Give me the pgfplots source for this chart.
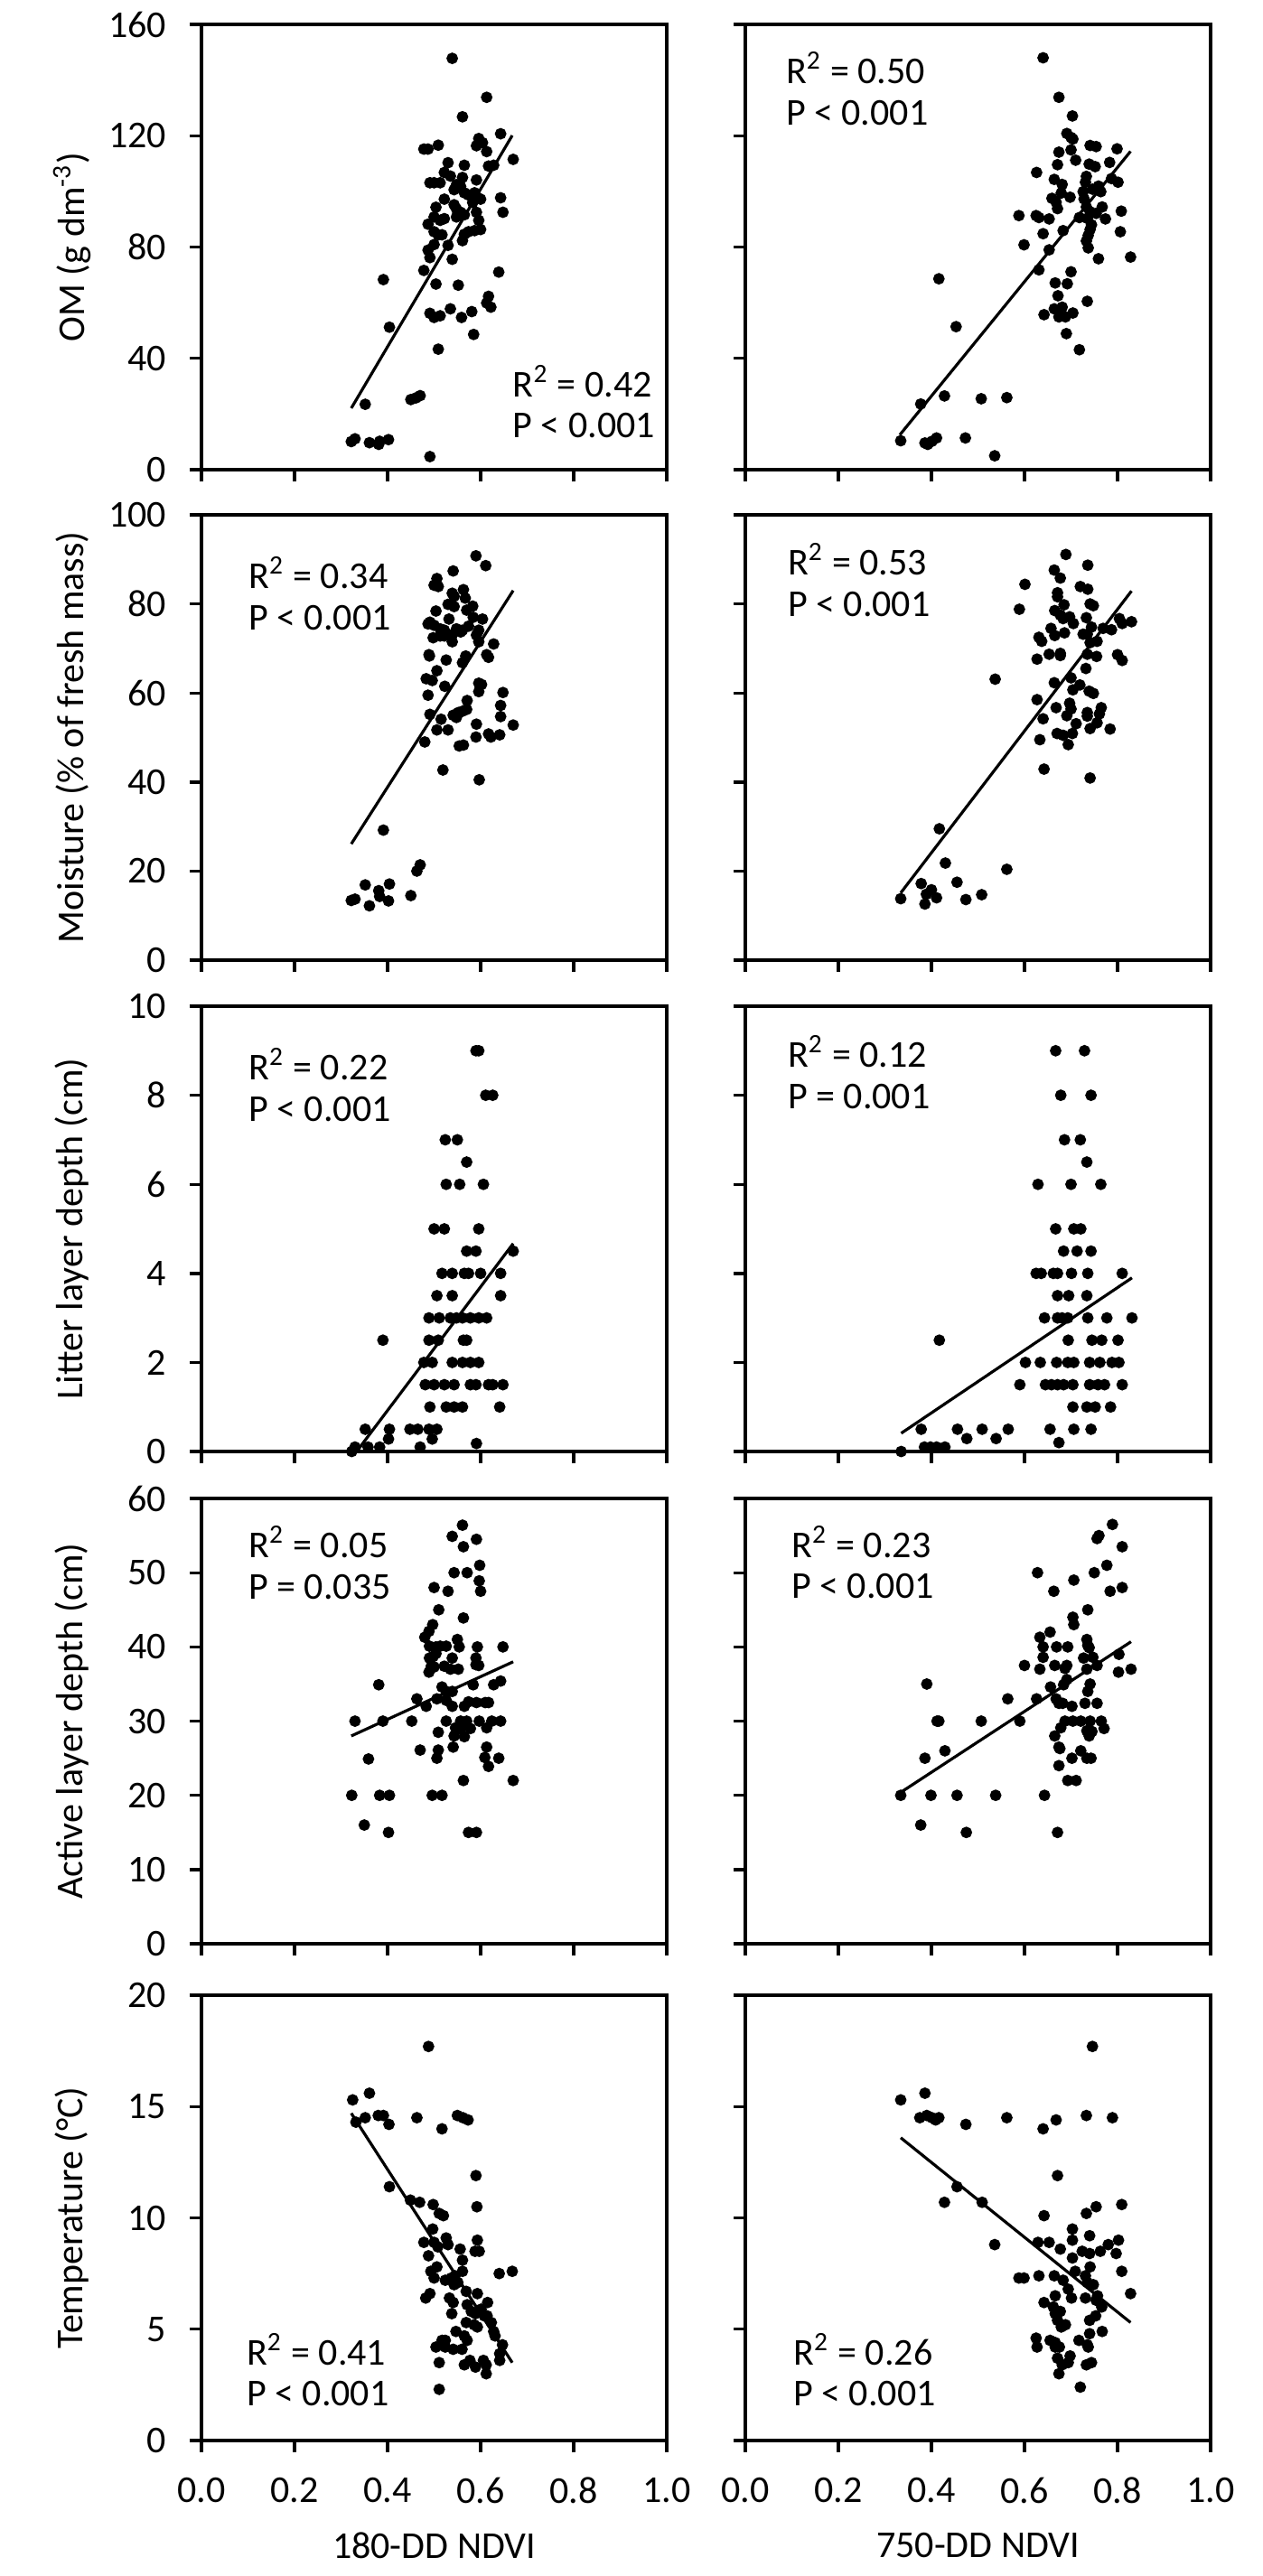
\documentclass[border=0pt]{standalone}
\usepackage{fontspec}
\setmainfont{Carlito}
\usepackage{pgfplots}
\pgfplotsset{compat=1.18}

\newcommand{\fs}{\fontsize{10.5}{12.5}\selectfont}

\pgfplotsset{
  panel/.style={
    scale only axis,
    width=128.75pt, height=123.25pt,
    anchor=south west,
    xmin=0, xmax=1,
    xtick={0,0.2,0.4,0.6,0.8,1},
    axis line style={line width=0.85pt},
    tick pos=left,
    tick align=outside,
    major tick length=3.25pt,
    every tick/.style={black, line width=0.85pt},
    tick label style={font=\fs},
    label style={font=\fs},
    /pgf/number format/assume math mode=true,
    xticklabel style={/pgf/number format/fixed, /pgf/number format/fixed zerofill,
      /pgf/number format/precision=1, yshift=-3.5pt},
    yticklabel style={xshift=-3pt},
    every axis y label/.style={at={(axis description cs:-0.278,0.5)}, rotate=90, anchor=center},
    every axis x label/.style={at={(axis description cs:0.5,-0.235)}, anchor=center},
    clip=false,
  },
  dots/.style={only marks, mark=*, mark size=1.4pt, black},
  fit/.style={black, line width=0.8pt, no marks},
}

\begin{document}
\begin{tikzpicture}[font=\fs]
\path[use as bounding box] (0,0) rectangle (349.25pt,-713pt);

% ---------------- row 1: OM ----------------
\begin{axis}[panel, at={(55.75pt,-130pt)}, ymin=0, ymax=160, ytick={0,40,80,120,160},
  xticklabels={}, ylabel={OM (g dm\textsuperscript{-3})}]
\addplot[dots] coordinates {
(0.539,147.8) (0.613,133.8) (0.561,126.8) (0.643,120.7) (0.670,111.5)
(0.487,115.2) (0.478,115.2) (0.509,116.6) (0.596,119.0) (0.604,117.5) (0.591,116.4)
(0.613,114.3) (0.530,110.3) (0.565,109.4) (0.617,109.1) (0.628,109.4)
(0.522,106.8) (0.535,105.5) (0.561,105.0) (0.491,103.1) (0.500,103.1) (0.513,103.1)
(0.591,104.1) (0.548,102.4) (0.543,100.6) (0.557,101.8) (0.565,99.5) (0.574,98.7)
(0.587,99.5) (0.596,97.5) (0.600,97.2) (0.583,96.0) (0.522,97.2) (0.504,94.3)
(0.543,95.2) (0.548,93.7) (0.557,92.5) (0.591,92.5) (0.565,91.6) (0.548,90.8)
(0.643,97.7) (0.648,92.5) (0.500,90.8) (0.487,88.2) (0.522,90.2) (0.513,89.6)
(0.596,89.6) (0.587,85.9) (0.574,85.5) (0.600,86.3) (0.500,85.5) (0.509,84.4)
(0.517,84.4) (0.565,84.6) (0.561,82.3) (0.500,80.9) (0.487,78.9) (0.491,76.2)
(0.530,80.6) (0.539,75.6) (0.478,71.6) (0.639,71.0) (0.391,68.3) (0.504,66.7)
(0.552,66.3) (0.617,62.3) (0.613,59.9) (0.622,58.4) (0.491,56.2) (0.500,54.7)
(0.513,55.3) (0.535,57.8) (0.559,54.7) (0.581,56.8) (0.585,48.6) (0.404,51.2)
(0.509,43.3) (0.450,25.2) (0.461,25.8) (0.470,26.6) (0.352,23.5) (0.322,10.1)
(0.330,11.1) (0.361,9.7) (0.381,9.1) (0.383,10.2) (0.402,10.8) (0.491,4.7)
};
\addplot[fit] coordinates {(0.322,22.1) (0.668,120.1)};
\node[anchor=west] at (rel axis cs:0.642,0.198) {R\textsuperscript{2} = 0.42};
\node[anchor=west] at (rel axis cs:0.642,0.100) {P < 0.001};
\end{axis}

\begin{axis}[panel, at={(206.25pt,-130pt)}, ymin=0, ymax=160, ytick={0,40,80,120,160},
  xticklabels={}, yticklabels={}]
\addplot[dots] coordinates {
(0.640,148.0) (0.674,133.8) (0.703,127.1) (0.691,120.8) (0.700,119.4) (0.704,118.8)
(0.700,114.9) (0.741,116.5) (0.754,116.1) (0.799,115.3) (0.674,114.1) (0.710,111.2)
(0.671,109.6) (0.739,109.8) (0.752,108.9) (0.783,110.4) (0.626,106.8) (0.664,104.3)
(0.681,102.5) (0.733,105.4) (0.731,103.3) (0.759,101.9) (0.787,104.6) (0.801,103.3)
(0.679,99.4) (0.698,97.9) (0.726,99.9) (0.746,100.8) (0.764,99.9) (0.659,97.5)
(0.668,96.1) (0.671,93.8) (0.728,97.3) (0.733,94.4) (0.741,92.7) (0.767,94.4)
(0.754,92.1) (0.808,92.9) (0.588,91.3) (0.625,91.3) (0.631,90.6) (0.653,90.1)
(0.718,90.6) (0.735,90.3) (0.774,90.1) (0.744,88.0) (0.741,86.3) (0.737,84.2)
(0.683,85.9) (0.806,85.5) (0.640,84.8) (0.733,82.2) (0.737,79.7) (0.599,80.8)
(0.653,79.0) (0.759,75.8) (0.828,76.4) (0.631,71.8) (0.700,71.1) (0.666,67.1)
(0.692,66.8) (0.672,62.5) (0.735,60.5) (0.664,57.8) (0.681,58.4) (0.674,54.9)
(0.688,54.9) (0.704,56.3) (0.642,55.7) (0.690,48.9) (0.718,43.1) (0.416,68.6)
(0.453,51.4) (0.377,23.6) (0.428,26.5) (0.507,25.5) (0.562,25.9) (0.334,10.4)
(0.386,9.6) (0.392,9.1) (0.401,10.2) (0.411,11.4) (0.473,11.4) (0.536,5.0)
};
\addplot[fit] coordinates {(0.332,12.5) (0.828,114.4)};
\node[anchor=west] at (rel axis cs:0.06,0.902) {R\textsuperscript{2} = 0.50};
\node[anchor=west] at (rel axis cs:0.06,0.801) {P < 0.001};
\end{axis}

% ---------------- row 2: Moisture ----------------
\begin{axis}[panel, at={(55.75pt,-265.75pt)}, ymin=0, ymax=100, ytick={0,20,40,60,80,100},
  xticklabels={}, ylabel={Moisture (\% of fresh mass)}]
\addplot[dots] coordinates {
(0.590,90.8) (0.611,88.6) (0.541,87.4) (0.506,85.7) (0.509,83.9) (0.500,84.2)
(0.539,82.4) (0.543,81.7) (0.563,83.2) (0.567,81.3) (0.530,79.9) (0.543,79.4)
(0.504,78.4) (0.583,79.5) (0.570,78.6) (0.532,76.6) (0.491,75.9) (0.487,75.5)
(0.500,75.2) (0.584,77.0) (0.604,76.6) (0.513,74.4) (0.522,74.1) (0.548,74.4)
(0.557,73.7) (0.561,74.1) (0.574,75.0) (0.596,74.1) (0.498,72.4) (0.513,72.8)
(0.522,72.8) (0.539,73.1) (0.539,71.5) (0.596,71.5) (0.591,73.0) (0.628,71.0)
(0.613,68.6) (0.617,68.0) (0.489,68.6) (0.490,68.3) (0.568,68.3) (0.561,66.8)
(0.526,67.4) (0.506,65.0) (0.483,63.2) (0.496,62.8) (0.487,59.5) (0.523,61.5)
(0.596,62.2) (0.602,61.9) (0.596,60.3) (0.648,60.1) (0.571,58.3) (0.570,56.3)
(0.561,55.9) (0.552,55.6) (0.643,57.2) (0.643,54.7) (0.491,55.2) (0.515,54.1)
(0.541,55.0) (0.548,54.5) (0.670,52.8) (0.591,53.0) (0.506,51.7) (0.530,51.7)
(0.590,50.1) (0.617,50.8) (0.622,50.1) (0.641,50.6) (0.480,49.0) (0.554,48.1)
(0.563,48.3) (0.519,42.7) (0.597,40.5) (0.391,29.2) (0.470,21.4) (0.463,20.0)
(0.450,14.5) (0.322,13.4) (0.330,13.7) (0.352,16.9) (0.361,12.2) (0.381,15.6)
(0.383,14.3) (0.402,13.3) (0.404,17.1)
};
\addplot[fit] coordinates {(0.322,26.1) (0.670,83.0)};
\node[anchor=west] at (rel axis cs:0.074,0.870) {R\textsuperscript{2} = 0.34};
\node[anchor=west] at (rel axis cs:0.074,0.768) {P < 0.001};
\end{axis}

\begin{axis}[panel, at={(206.25pt,-265.75pt)}, ymin=0, ymax=100, ytick={0,20,40,60,80,100},
  xticklabels={}, yticklabels={}]
\addplot[dots] coordinates {
(0.689,91.1) (0.736,88.7) (0.664,87.6) (0.677,85.8) (0.601,84.4) (0.720,83.9)
(0.736,83.3) (0.671,82.5) (0.671,81.6) (0.685,79.8) (0.741,80.0) (0.748,79.6)
(0.589,78.8) (0.665,78.5) (0.677,77.5) (0.683,76.7) (0.697,77.1) (0.705,75.6)
(0.733,76.9) (0.804,76.7) (0.810,75.6) (0.830,76.0) (0.657,74.5) (0.665,72.9)
(0.686,73.5) (0.744,74.8) (0.726,73.2) (0.735,73.2) (0.769,74.5) (0.787,74.2)
(0.631,72.5) (0.637,71.6) (0.741,71.3) (0.756,71.6) (0.653,68.7) (0.677,68.9)
(0.677,68.4) (0.627,67.6) (0.735,68.7) (0.755,68.2) (0.800,68.6) (0.810,67.3)
(0.732,65.5) (0.537,63.1) (0.700,63.4) (0.664,62.3) (0.719,61.8) (0.704,60.7)
(0.739,60.4) (0.748,59.9) (0.627,58.5) (0.668,56.7) (0.697,57.7) (0.700,56.4)
(0.691,54.9) (0.735,55.6) (0.735,54.8) (0.765,56.7) (0.761,55.3) (0.756,53.3)
(0.640,54.2) (0.711,53.1) (0.741,52.0) (0.784,51.9) (0.670,50.9) (0.683,50.5)
(0.703,50.9) (0.694,48.4) (0.633,49.5) (0.642,42.9) (0.741,40.9) (0.417,29.5)
(0.430,21.8) (0.378,17.2) (0.455,17.5) (0.562,20.4) (0.334,13.8) (0.389,14.8)
(0.400,15.8) (0.411,14.0) (0.386,12.6) (0.474,13.6) (0.508,14.7)
};
\addplot[fit] coordinates {(0.334,15.1) (0.830,82.9)};
\node[anchor=west] at (rel axis cs:0.064,0.900) {R\textsuperscript{2} = 0.53};
\node[anchor=west] at (rel axis cs:0.064,0.800) {P < 0.001};
\end{axis}

% ---------------- row 3: Litter layer depth ----------------
\begin{axis}[panel, at={(55.75pt,-401.75pt)}, ymin=0, ymax=10, ytick={0,2,4,6,8,10},
  xticklabels={}, ylabel={Litter layer depth (cm)}]
\addplot[dots] coordinates {
(0.590,9) (0.596,9) (0.611,8) (0.626,8) (0.524,7) (0.550,7) (0.570,6.5)
(0.526,6) (0.555,6) (0.606,6) (0.500,5) (0.522,5) (0.596,5)
(0.570,4.5) (0.590,4.5) (0.670,4.5)
(0.517,4) (0.539,4) (0.565,4) (0.574,4) (0.600,4) (0.643,4)
(0.506,3.5) (0.539,3.5) (0.643,3.5)
(0.489,3) (0.511,3) (0.535,3) (0.548,3) (0.561,3) (0.578,3) (0.596,3) (0.613,3)
(0.390,2.5) (0.489,2.5) (0.509,2.5) (0.563,2.5) (0.570,2.5)
(0.478,2) (0.496,2) (0.539,2) (0.561,2) (0.578,2) (0.596,2)
(0.481,1.5) (0.500,1.5) (0.522,1.5) (0.543,1.5) (0.578,1.5) (0.590,1.5) (0.617,1.5) (0.626,1.5) (0.648,1.5)
(0.491,1) (0.526,1) (0.543,1) (0.561,1) (0.641,1)
(0.352,0.5) (0.404,0.5) (0.448,0.5) (0.465,0.5) (0.489,0.5) (0.506,0.5)
(0.402,0.28) (0.496,0.28) (0.591,0.18)
(0.330,0.1) (0.358,0.1) (0.383,0.1) (0.470,0.1) (0.323,0)
};
\addplot[fit] coordinates {(0.335,0.02) (0.670,4.67)};
\node[anchor=west] at (rel axis cs:0.074,0.870) {R\textsuperscript{2} = 0.22};
\node[anchor=west] at (rel axis cs:0.074,0.769) {P < 0.001};
\end{axis}

\begin{axis}[panel, at={(206.25pt,-401.75pt)}, ymin=0, ymax=10, ytick={0,2,4,6,8,10},
  xticklabels={}, yticklabels={}]
\addplot[dots] coordinates {
(0.667,9) (0.729,9) (0.678,8) (0.743,8) (0.686,7) (0.720,7) (0.734,6.5)
(0.629,6) (0.700,6) (0.764,6) (0.667,5) (0.706,5) (0.721,5)
(0.684,4.5) (0.713,4.5) (0.743,4.5)
(0.625,4) (0.636,4) (0.662,4) (0.671,4) (0.701,4) (0.736,4) (0.810,4)
(0.671,3.5) (0.695,3.5) (0.734,3.5)
(0.643,3) (0.671,3) (0.681,3) (0.693,3) (0.736,3) (0.777,3) (0.831,3)
(0.417,2.5) (0.694,2.5) (0.745,2.5) (0.766,2.5) (0.801,2.5)
(0.602,2) (0.634,2) (0.669,2) (0.693,2) (0.706,2) (0.740,2) (0.762,2) (0.788,2) (0.803,2)
(0.590,1.5) (0.645,1.5) (0.658,1.5) (0.671,1.5) (0.684,1.5) (0.704,1.5) (0.740,1.5) (0.758,1.5) (0.772,1.5) (0.810,1.5)
(0.704,1) (0.734,1) (0.752,1) (0.785,1)
(0.378,0.5) (0.456,0.5) (0.509,0.5) (0.565,0.5) (0.655,0.5) (0.706,0.5) (0.743,0.5)
(0.476,0.29) (0.539,0.29) (0.674,0.2)
(0.385,0.1) (0.398,0.1) (0.411,0.1) (0.429,0.1) (0.335,0)
};
\addplot[fit] coordinates {(0.335,0.41) (0.831,3.90)};
\node[anchor=west] at (rel axis cs:0.064,0.899) {R\textsuperscript{2} = 0.12};
\node[anchor=west] at (rel axis cs:0.064,0.797) {P = 0.001};
\end{axis}

% ---------------- row 4: Active layer depth ----------------
\begin{axis}[panel, at={(55.75pt,-538pt)}, ymin=0, ymax=60, ytick={0,10,20,30,40,50,60},
  xticklabels={}, ylabel={Active layer depth (cm)}]
\addplot[dots] coordinates {
(0.561,56.4) (0.539,54.9) (0.591,54.5) (0.563,53.5) (0.543,50.0) (0.571,50.0)
(0.598,51.0) (0.597,48.9) (0.500,48.0) (0.530,47.5) (0.600,47.5) (0.510,45.0)
(0.563,43.9) (0.497,43.0) (0.489,42.1) (0.480,41.3) (0.550,41.0)
(0.490,40.1) (0.504,40.0) (0.513,40.1) (0.526,40.1) (0.554,40.0) (0.593,40.0) (0.648,40.0)
(0.490,38.5) (0.504,39.1) (0.498,38.7) (0.539,38.5) (0.590,38.5) (0.590,37.6) (0.596,37.5)
(0.494,37.4) (0.500,37.3) (0.489,36.6) (0.522,37.4) (0.535,37.0) (0.552,37.0)
(0.643,35.4) (0.628,34.9) (0.584,34.9) (0.517,34.6) (0.539,34.0) (0.526,34.0)
(0.463,33.0) (0.506,33.0) (0.526,32.8) (0.574,32.6) (0.591,32.5) (0.610,32.5) (0.617,32.5)
(0.483,32.0) (0.539,32.0) (0.565,32.0)
(0.330,30) (0.390,30) (0.452,30) (0.526,30) (0.557,30) (0.570,30) (0.597,30) (0.624,30) (0.643,30)
(0.546,29.1) (0.557,28.9) (0.578,29.0) (0.509,28.5) (0.543,28.0) (0.565,27.9) (0.613,29.1)
(0.470,26.1) (0.509,26.1) (0.541,26.5) (0.613,26.5) (0.381,34.9) (0.359,24.9)
(0.506,25.0) (0.609,25.1) (0.617,23.9) (0.639,25.0) (0.563,22.0) (0.670,22.0)
(0.323,20) (0.383,20) (0.404,20) (0.496,20) (0.517,20) (0.350,16.0)
(0.402,15) (0.574,15) (0.591,15)
};
\addplot[fit] coordinates {(0.322,28.0) (0.670,38.0)};
\node[anchor=west] at (rel axis cs:0.074,0.903) {R\textsuperscript{2} = 0.05};
\node[anchor=west] at (rel axis cs:0.074,0.801) {P = 0.035};
\end{axis}

\begin{axis}[panel, at={(206.25pt,-538pt)}, ymin=0, ymax=60, ytick={0,10,20,30,40,50,60},
  xticklabels={}, yticklabels={}]
\addplot[dots] coordinates {
(0.789,56.5) (0.756,54.6) (0.760,55.0) (0.810,53.5) (0.777,51.0) (0.628,50.0)
(0.750,50.0) (0.706,49.0) (0.663,47.5) (0.784,47.5) (0.810,48.0) (0.736,45.0)
(0.704,44.0) (0.706,43.0) (0.655,42.0) (0.633,41.3) (0.734,41.0) (0.736,40.2)
(0.640,40.0) (0.669,40.0) (0.693,40.0) (0.739,39.9) (0.727,38.5) (0.747,38.6)
(0.803,39.0) (0.640,38.6) (0.600,37.5) (0.665,37.5) (0.691,37.5) (0.687,37.1)
(0.756,37.5) (0.633,37.0) (0.734,37.0) (0.802,36.6) (0.829,37.0) (0.691,35.6)
(0.684,34.9) (0.390,35.0) (0.741,35.0) (0.736,34.0) (0.656,34.6) (0.564,33.0)
(0.626,33.0) (0.668,33.0) (0.674,32.4) (0.682,32.4) (0.702,32.0) (0.730,32.4)
(0.756,32.4) (0.412,30) (0.416,30) (0.507,30) (0.590,30) (0.687,30) (0.704,30)
(0.721,30) (0.741,30) (0.765,30) (0.678,29.1) (0.665,28.0) (0.734,28.7)
(0.745,28.6) (0.739,28.0) (0.771,29.0) (0.429,26.0) (0.674,26.5) (0.676,26.3)
(0.721,26.0) (0.386,25.0) (0.702,25.0) (0.734,25.0) (0.743,25.0) (0.674,24.0)
(0.693,22.0) (0.711,22.0) (0.334,20) (0.399,20) (0.455,20) (0.538,20) (0.643,20)
(0.377,16.0) (0.475,15.0) (0.671,15.0)
};
\addplot[fit] coordinates {(0.334,20.4) (0.829,40.7)};
\node[anchor=west] at (rel axis cs:0.072,0.903) {R\textsuperscript{2} = 0.23};
\node[anchor=west] at (rel axis cs:0.072,0.803) {P < 0.001};
\end{axis}

% ---------------- row 5: Temperature ----------------
\begin{axis}[panel, at={(55.75pt,-675.5pt)}, ymin=0, ymax=20, ytick={0,5,10,15,20},
  ylabel={Temperature (°C)}, xlabel={180-DD NDVI}]
\addplot[dots] coordinates {
(0.488,17.7) (0.325,15.3) (0.361,15.6) (0.332,14.3) (0.352,14.5) (0.380,14.6)
(0.391,14.6) (0.403,14.2) (0.463,14.5) (0.517,14.0) (0.550,14.6) (0.562,14.5)
(0.573,14.4) (0.590,11.9) (0.404,11.4) (0.449,10.8) (0.469,10.7) (0.498,10.6)
(0.511,10.2) (0.520,10.1) (0.592,10.5) (0.497,9.5) (0.478,8.9) (0.500,8.9)
(0.526,9.1) (0.593,9.0) (0.508,8.7) (0.530,8.8) (0.556,8.6) (0.588,8.5)
(0.597,8.5) (0.488,8.3) (0.561,8.1) (0.493,7.6) (0.506,7.8) (0.500,7.3)
(0.640,7.5) (0.668,7.6) (0.561,7.6) (0.524,7.2) (0.537,7.3) (0.545,7.4)
(0.543,7.0) (0.551,7.1) (0.569,6.7) (0.491,6.6) (0.482,6.4) (0.533,6.4)
(0.541,6.2) (0.593,6.6) (0.571,6.1) (0.615,6.2) (0.601,5.9) (0.589,5.7)
(0.580,5.8) (0.538,5.7) (0.608,5.6) (0.614,5.6) (0.623,5.3) (0.569,5.3)
(0.586,5.2) (0.593,5.1) (0.628,4.9) (0.631,4.7) (0.547,4.9) (0.565,4.7)
(0.571,4.5) (0.517,4.5) (0.524,4.5) (0.504,4.2) (0.524,4.2) (0.541,4.1)
(0.560,4.1) (0.647,4.3) (0.641,3.9) (0.511,3.5) (0.577,3.6) (0.606,3.6)
(0.612,3.4) (0.565,3.4) (0.589,3.3) (0.641,3.6) (0.612,3.0) (0.511,2.3)
};
\addplot[fit] coordinates {(0.322,14.7) (0.668,3.5)};
\node[anchor=west] at (rel axis cs:0.070,0.205) {R\textsuperscript{2} = 0.41};
\node[anchor=west] at (rel axis cs:0.070,0.105) {P < 0.001};
\end{axis}

\begin{axis}[panel, at={(206.25pt,-675.5pt)}, ymin=0, ymax=20, ytick={0,5,10,15,20},
  yticklabels={}, xlabel={750-DD NDVI}]
\addplot[dots] coordinates {
(0.746,17.7) (0.386,15.6) (0.334,15.3) (0.375,14.5) (0.390,14.6) (0.401,14.5)
(0.409,14.4) (0.416,14.5) (0.474,14.2) (0.562,14.5) (0.640,14.0) (0.668,14.4)
(0.733,14.6) (0.789,14.5) (0.671,11.9) (0.455,11.4) (0.428,10.7) (0.509,10.7)
(0.809,10.6) (0.754,10.5) (0.733,10.2) (0.642,10.1) (0.536,8.8) (0.703,9.5)
(0.703,9.0) (0.740,9.2) (0.629,8.9) (0.653,8.9) (0.677,8.6) (0.724,8.5)
(0.740,8.4) (0.763,8.5) (0.780,8.8) (0.802,9.0) (0.797,8.4) (0.703,8.2)
(0.741,7.8) (0.709,7.6) (0.809,7.6) (0.588,7.3) (0.599,7.3) (0.631,7.4)
(0.664,7.4) (0.683,7.2) (0.731,7.4) (0.735,7.1) (0.748,7.0) (0.694,6.8)
(0.828,6.6) (0.666,6.5) (0.731,6.4) (0.701,6.4) (0.757,6.5) (0.754,6.3)
(0.766,6.0) (0.642,6.2) (0.662,6.0) (0.666,5.7) (0.677,5.8) (0.671,5.4)
(0.679,5.1) (0.688,5.2) (0.740,5.4) (0.753,5.6) (0.767,4.9) (0.740,4.8)
(0.625,4.6) (0.627,4.2) (0.655,4.5) (0.666,4.4) (0.666,4.2) (0.675,4.2)
(0.717,4.5) (0.735,4.3) (0.737,4.2) (0.671,3.7) (0.698,3.8) (0.694,3.5)
(0.681,3.4) (0.733,3.4) (0.744,3.5) (0.674,3.0) (0.720,2.4)
};
\addplot[fit] coordinates {(0.334,13.6) (0.828,5.3)};
\node[anchor=west] at (rel axis cs:0.076,0.205) {R\textsuperscript{2} = 0.26};
\node[anchor=west] at (rel axis cs:0.076,0.105) {P < 0.001};
\end{axis}
\end{tikzpicture}
\end{document}
